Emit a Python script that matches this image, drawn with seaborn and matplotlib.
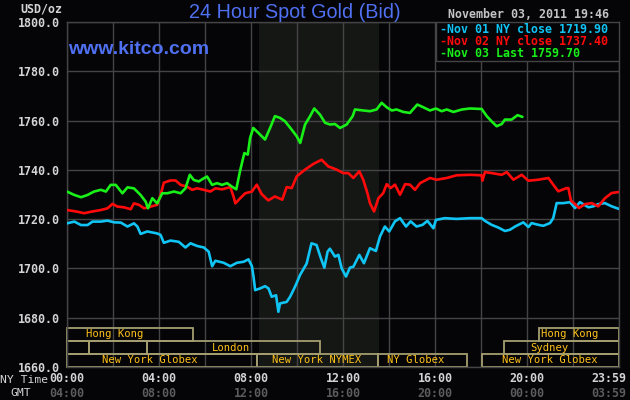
import matplotlib
matplotlib.use("Agg")
import matplotlib.pyplot as plt
from matplotlib.patches import Rectangle
import seaborn as sns
import pandas as pd

# ---------------- data (hours NY time, USD/oz) ----------------
nov01_hours = [0, 0.32, 0.61, 0.89, 1.11, 1.47, 1.76, 2.05, 2.34, 2.63, 2.91, 3.06, 3.20, 3.49,
               3.92, 4.07, 4.21, 4.50, 4.86, 5.15, 5.37, 5.66, 5.95, 6.16, 6.31, 6.45, 6.81,
               7.10, 7.39, 7.68, 7.89, 8.04, 8.11, 8.18, 8.40, 8.61, 8.76, 8.90, 9.09, 9.19,
               9.26, 9.55, 9.70, 9.91, 10.13, 10.42, 10.63, 10.85, 11.04, 11.19, 11.33, 11.43,
               11.65, 11.80, 11.94, 12.13, 12.30, 12.45, 12.71, 12.91, 13.17, 13.43, 13.61,
               13.82, 14.01, 14.26, 14.48, 14.74, 14.94, 15.20, 15.46, 15.67, 15.93, 16.04,
               16.43, 16.94, 17.52, 18.03, 18.17, 18.46, 18.75, 19.04, 19.26, 19.48, 19.84,
               20.06, 20.20, 20.49, 20.71, 21.00, 21.14, 21.29, 21.58, 21.87, 22.09, 22.30,
               22.67, 22.88, 23.10, 23.39, 23.68, 23.98]
nov01_price = [1718.3, 1719.0, 1717.6, 1717.6, 1719.0, 1719.0, 1719.4, 1718.7, 1718.6, 1717.0,
               1718.3, 1717.0, 1714.0, 1715.0, 1714.2, 1713.6, 1710.4, 1711.3, 1710.8, 1708.5,
               1710.2, 1709.1, 1708.5, 1706.8, 1700.9, 1703.1, 1702.3, 1700.9, 1702.3, 1702.7,
               1703.7, 1700.9, 1696.6, 1691.2, 1691.9, 1692.8, 1691.9, 1688.5, 1689.1, 1682.4,
               1685.8, 1686.4, 1688.5, 1692.5, 1697.3, 1702.0, 1710.2, 1709.5, 1704.1, 1700.3,
               1706.8, 1708.0, 1704.8, 1705.5, 1700.1, 1696.7, 1700.3, 1700.7, 1705.5, 1702.1,
               1708.2, 1707.1, 1713.0, 1717.0, 1715.0, 1719.1, 1720.4, 1717.0, 1719.1, 1717.0,
               1717.7, 1719.3, 1716.3, 1719.7, 1720.4, 1720.1, 1720.4, 1720.4, 1719.3, 1717.7,
               1716.6, 1715.2, 1715.7, 1717.0, 1718.7, 1716.8, 1718.4, 1717.7, 1717.3, 1718.4,
               1720.4, 1726.5, 1726.5, 1726.9, 1724.5, 1726.9, 1724.8, 1725.2, 1726.1, 1726.5,
               1725.2, 1724.2]

nov02_hours = [0, 0.46, 0.75, 1.04, 1.47, 1.76, 1.98, 2.19, 2.48, 2.77, 2.91, 3.13, 3.35, 3.64,
               3.92, 4.07, 4.21, 4.50, 4.72, 4.94, 5.22, 5.44, 5.66, 5.95, 6.23, 6.45, 6.74,
               7.10, 7.24, 7.32, 7.53, 7.75, 8.04, 8.25, 8.46, 8.75, 9.04, 9.36, 9.55, 9.77,
               9.99, 10.35, 10.71, 11.07, 11.36, 11.72, 12.01, 12.23, 12.45, 12.71, 12.88,
               13.06, 13.17, 13.35, 13.54, 13.75, 13.90, 14.07, 14.26, 14.48, 14.70, 14.91,
               15.13, 15.35, 15.78, 16.07, 16.51, 16.94, 17.52, 18.03, 18.06, 18.17, 18.46,
               18.90, 19.12, 19.41, 19.77, 20.06, 20.49, 20.93, 21.14, 21.36, 21.72, 21.80,
               21.91, 22.09, 22.26, 22.52, 22.81, 23.10, 23.39, 23.68, 23.98]
nov02_price = [1723.7, 1723.0, 1722.4, 1723.0, 1723.7, 1724.4, 1726.2, 1725.1, 1724.8, 1724.0,
               1726.4, 1725.8, 1724.4, 1725.1, 1725.8, 1729.8, 1734.8, 1735.7, 1735.7, 1733.9,
               1733.2, 1731.9, 1732.5, 1731.9, 1731.2, 1732.5, 1732.1, 1733.0, 1729.2, 1726.4,
               1728.5, 1730.5, 1731.2, 1734.0, 1730.2, 1727.6, 1729.2, 1727.9, 1733.0, 1732.6,
               1737.4, 1740.1, 1742.4, 1744.1, 1741.4, 1740.1, 1738.7, 1738.7, 1736.7, 1739.4,
               1736.0, 1730.6, 1726.5, 1723.1, 1728.5, 1730.6, 1734.2, 1732.6, 1734.0, 1729.9,
               1734.2, 1734.0, 1731.9, 1734.6, 1736.7, 1736.0, 1736.7, 1737.8, 1738.0, 1737.8,
               1735.6, 1739.1, 1738.7, 1738.0, 1739.1, 1736.0, 1738.0, 1735.6, 1736.0, 1736.7,
               1734.0, 1731.3, 1732.6, 1732.6, 1727.5, 1726.1, 1724.5, 1726.1, 1726.5, 1725.2,
               1728.5, 1730.6, 1731.0]

nov03_hours = [0, 0.32, 0.61, 0.89, 1.18, 1.47, 1.69, 1.90, 2.12, 2.41, 2.63, 2.91, 3.20, 3.42,
               3.52, 3.71, 3.92, 4.14, 4.36, 4.65, 4.94, 5.15, 5.34, 5.51, 5.73, 5.95, 6.09,
               6.31, 6.52, 6.74, 6.96, 7.17, 7.36, 7.52, 7.71, 7.86, 7.96, 8.10, 8.32, 8.61,
               8.83, 9.04, 9.26, 9.48, 9.77, 9.99, 10.14, 10.35, 10.57, 10.75, 11.00, 11.22,
               11.43, 11.65, 11.87, 12.16, 12.42, 12.52, 12.88, 13.17, 13.46, 13.68, 13.90,
               14.12, 14.33, 14.62, 14.91, 15.23, 15.49, 15.78, 16.04, 16.29, 16.51, 16.80,
               17.17, 17.52, 18.03, 18.25, 18.46, 18.68, 18.90, 19.04, 19.33, 19.59, 19.80]
nov03_price = [1731.2, 1729.8, 1728.9, 1729.8, 1731.2, 1731.9, 1731.2, 1733.9, 1733.9, 1730.5,
               1732.9, 1732.5, 1729.8, 1727.1, 1724.4, 1728.5, 1726.4, 1730.5, 1730.5, 1731.2,
               1730.5, 1732.5, 1738.0, 1735.9, 1735.3, 1736.6, 1737.3, 1733.9, 1734.6, 1733.9,
               1734.6, 1733.2, 1732.1, 1739.4, 1746.8, 1746.2, 1752.9, 1757.0, 1755.0, 1752.3,
               1757.0, 1761.8, 1761.1, 1759.7, 1756.3, 1753.6, 1750.9, 1758.4, 1761.8, 1764.9,
               1762.4, 1759.1, 1758.4, 1758.6, 1757.0, 1758.4, 1761.8, 1764.5, 1764.1, 1763.8,
               1764.5, 1767.2, 1765.4, 1764.1, 1764.5, 1763.5, 1763.1, 1766.5, 1765.4, 1764.1,
               1764.9, 1763.8, 1764.5, 1763.5, 1764.5, 1764.9, 1764.7, 1761.8, 1759.7, 1757.7,
               1758.6, 1760.4, 1760.4, 1762.2, 1761.5]

legend_labels = ["Nov 01 NY close 1719.90", "Nov 02 NY close 1737.40", "Nov 03 Last 1759.70"]

y_ticks = [1660, 1680, 1700, 1720, 1740, 1760, 1780, 1800]
x_ticks = [0, 4, 8, 12, 16, 20, 24]
ny_labels = ["00:00", "04:00", "08:00", "12:00", "16:00", "20:00", "23:59"]
gmt_labels = ["04:00", "08:00", "12:00", "16:00", "20:00", "00:00", "03:59"]

session_names = ["Hong Kong", "", "", "London", "New York Globex", "New York NYMEX",
                 "NY Globex", "New York Globex", "Sydney", "Hong Kong"]
session_start = [0, 0, 0.96, 3.48, 0, 8.26, 13.52, 18.04, 19.0, 20.52]
session_end = [5.48, 0.96, 3.48, 11.0, 8.26, 13.52, 17.39, 24, 24, 24]
session_row = [0, 1, 1, 1, 2, 2, 2, 2, 1, 0]
session_text_x = [2.09, 0, 0, 7.13, 3.61, 10.87, 15.17, 21.0, 20.96, 21.87]

title = "24 Hour Spot Gold (Bid)"
site = "www.kitco.com"
stamp = "November 03, 2011 19:46"

# ---------------- styling ----------------
BG = "#050508"
GRID = "#444444"
SHADE = "#151715"
C_BLUE = "#10c4f4"
C_RED = "#ff0a0a"
C_GREEN = "#18f018"
BOX_EDGE = "#a49e70"
BOX_TEXT = "#ffc21a"
TICK = "#d4d4d4"
GMT_C = "#5c5c5c"
TITLE_C = "#4f70f0"
MONO = ["DejaVu Sans Mono"]

sns.set_theme(style="dark")
plt.rcParams["font.family"] = ["DejaVu Sans"]

W, H = 630, 400
fig = plt.figure(figsize=(W / 100, H / 100), dpi=100, facecolor=BG)
L, R, T, B = 67, 619, 22, 367
ax = fig.add_axes([L / W, 1 - B / H, (R - L) / W, (B - T) / H])
ax.set_facecolor(BG)

frames = []
for name, hrs, vals in [("Nov 01", nov01_hours, nov01_price),
                        ("Nov 02", nov02_hours, nov02_price),
                        ("Nov 03", nov03_hours, nov03_price)]:
    frames.append(pd.DataFrame({"hour": hrs, "price": vals, "day": name}))
df = pd.concat(frames, ignore_index=True)

ax.axvspan(8.33, 13.55, color=SHADE, zorder=0, lw=0)

sns.lineplot(data=df, x="hour", y="price", hue="day",
             palette={"Nov 01": C_BLUE, "Nov 02": C_RED, "Nov 03": C_GREEN},
             linewidth=1.9, legend=False, ax=ax, zorder=3, estimator=None, sort=False)

ax.set_xlim(0, 24)
ax.set_ylim(1660, 1800)
ax.set_xticks(x_ticks)
ax.set_xticks([2, 6, 10, 14, 18, 22], minor=True)
ax.set_yticks(y_ticks)
ax.set_xticklabels([])
ax.set_yticklabels([f"{v:.1f}" for v in y_ticks], family=MONO, fontweight="bold",
                   fontsize=8.4, color=TICK)
ax.tick_params(axis="both", which="both", length=0)
ax.tick_params(axis="y", pad=5)
ax.set_xlabel("")
ax.set_ylabel("")
ax.grid(True, which="both", color=GRID, lw=1.0)
ax.set_axisbelow(True)
for sp in ax.spines.values():
    sp.set_visible(True)
    sp.set_color(GRID)
    sp.set_linewidth(1.0)

# session boxes
row_h = 13 * 140 / 345
top_val = 1660 + 3 * row_h
for nm, s, e, r, tx in zip(session_names, session_start, session_end, session_row, session_text_x):
    y0 = top_val - (r + 1) * row_h
    ax.add_patch(Rectangle((s, y0), e - s, row_h, fill=False, edgecolor=BOX_EDGE,
                           lw=1.3, zorder=2, clip_on=False))
    if nm:
        ax.text(tx, y0 + row_h / 2, nm, family=MONO, fontsize=7.6, color=BOX_TEXT,
                ha="center", va="center", zorder=4)

# legend box
lx0 = (436 - L) / (R - L)
ly0 = (B - 61) / (B - T)
ax.add_patch(Rectangle((lx0, ly0), 1 - lx0, 1 - ly0, transform=ax.transAxes,
                       facecolor=BG, edgecolor=GRID, lw=1.0, zorder=5))
def ftext(x, y, s, **kw):
    fig.text(x / W, 1 - y / H, s, **kw)

for i, (lab, col) in enumerate(zip(legend_labels, [C_BLUE, C_RED, C_GREEN])):
    ftext(440, 29.5 + 12 * i, "-" + lab, family=MONO, fontweight="bold", fontsize=8.4,
          color=col, ha="left", va="center", zorder=6)

# x labels (NY and GMT)
for k, (xt, a, b) in enumerate(zip(x_ticks, ny_labels, gmt_labels)):
    px = L + xt * (R - L) / 24
    ha = "center"
    if k == len(x_ticks) - 1:
        px, ha = 626, "right"
    ftext(px, 379, a, family=MONO, fontweight="bold", fontsize=8.4, color=TICK,
          ha=ha, va="center")
    ftext(px, 393.5, b, family=MONO, fontweight="bold", fontsize=8.4, color=GMT_C,
          ha=ha, va="center")
ftext(24, 380, "NY Time", family=MONO, fontsize=8.2, color=TICK, ha="center", va="center")
ftext(20.5, 393.5, "GMT", family=MONO, fontsize=8.2, color=TICK, ha="center", va="center")

ftext(62, 8.5, "USD/oz", family=MONO, fontweight="bold", fontsize=8.4, color=TICK,
      ha="right", va="center")
ftext(528, 15, stamp, family=MONO, fontweight="bold", fontsize=8.4, color="#c4c4c4",
      ha="center", va="center")
ftext(295, 12, title, family=["Liberation Sans"], fontsize=14.2, color=TITLE_C,
      ha="center", va="center")
ftext(68, 49, site, family=["Liberation Sans"], fontsize=14.0, color=TITLE_C,
      ha="left", va="center", fontweight="bold")

fig.savefig("out.png", dpi=100, facecolor=BG)
